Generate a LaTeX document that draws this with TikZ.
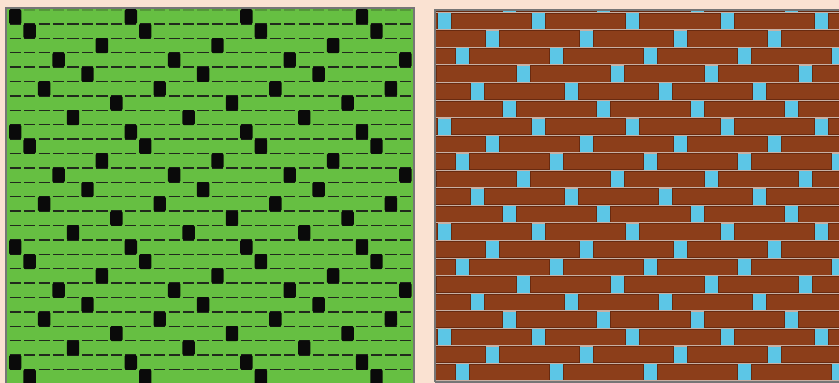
\documentclass[tikz,border=0pt]{standalone}
\definecolor{bgpeach}{RGB}{250,226,210}
\definecolor{leafgreen}{RGB}{102,191,66}
\definecolor{dashdark}{RGB}{32,42,28}
\definecolor{knotblack}{RGB}{10,10,10}
\definecolor{framegray}{RGB}{118,118,118}
\definecolor{skyblue}{RGB}{92,198,230}
\definecolor{brickbrown}{RGB}{140,62,26}
\definecolor{brickedge}{RGB}{104,42,16}
\definecolor{sepgray}{RGB}{200,176,164}
\tikzset{
  dashline/.style={draw=dashdark,line width=1.5pt},
  knot/.style={fill=knotblack,rounded corners=1.5pt},
  frameline/.style={draw=framegray,line width=2.2pt},
  brick/.style={fill=brickbrown,draw=brickedge,line width=0.8pt},
  sepline/.style={draw=sepgray,line width=1.4pt}
}
\begin{document}
\begin{tikzpicture}[x=1pt,y=-1pt]
\useasboundingbox (0,0) rectangle (839,383);
\fill[bgpeach] (0,0) rectangle (839,383);
% ---------- left panel: 8-end satin weave ----------
\begin{scope}
\clip (6,8) rectangle (414,383);
\fill[leafgreen] (6,8) rectangle (414,383);
\foreach \cc in {0,...,27} {
  \draw[dashline,draw opacity=0.25] ({8+\cc*14.45+1.6},9.8) -- ({8+(\cc+1)*14.45-1.6},9.8);
}
\foreach \rr in {1,...,26} {
  \foreach \cc in {0,...,27} {
    \draw[dashline] ({8+\cc*14.45+1.6},{9.5+\rr*14.4}) -- ({8+(\cc+1)*14.45-1.6},{9.5+\rr*14.4});
  }
}
\foreach \rr in {0,...,26} {
  \pgfmathtruncatemacro{\kk}{{0,1,6,3,5,2,7,4}[mod(\rr,8)]}
  \foreach \nn in {0,1,2,3} {
    \pgfmathtruncatemacro{\cc}{\kk+8*\nn}
    \ifnum\cc<28
      \fill[knot] ({8+\cc*14.45+1.0},{9.5+\rr*14.4-0.3}) rectangle +(12.4,15.0);
    \fi
  }
}
\end{scope}
\draw[frameline] (6,384) -- (6,8) -- (414,8) -- (414,384);
% ---------- right panel: bricks ----------
\begin{scope}
\clip (435,10) rectangle (839,382);
\fill[skyblue] (435,10) rectangle (839,382);
\foreach \rr in {-1,...,21} {
  \pgfmathsetmacro{\yt}{12.5+\rr*17.55}
  \draw[sepline] (435,\yt) -- (839,\yt);
  \pgfmathsetmacro{\gg}{{437.6,485,455,516,470,502}[mod(\rr+6,6)]}
  \foreach \nn in {-1,...,5} {
    \fill[brick] ({\gg+\nn*94.1+14},{\yt+0.7}) rectangle ({\gg+(\nn+1)*94.1},{\yt+17.55-0.7});
  }
}
\end{scope}
\draw[frameline] (435,382) -- (435,10) -- (840,10);
\draw[frameline] (435,382) -- (840,382);
\end{tikzpicture}
\end{document}
